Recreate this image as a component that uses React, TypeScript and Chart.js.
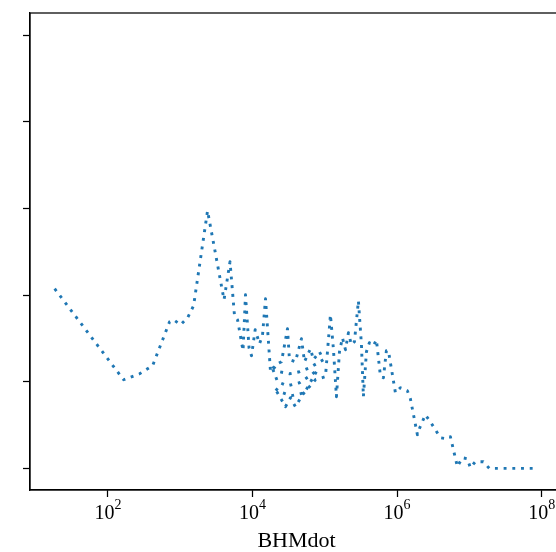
import React, { useEffect, useRef } from "react";
import { Chart, registerables } from "chart.js";

Chart.register(...registerables);

// log10 of BHMdot for each vertex of the plotted (dotted) line
const bhmdotExp = [
  1.263, 2.217, 2.438, 2.618, 2.853, 2.908, 3.005, 3.102, 3.185, 3.378,
  3.606, 3.689, 3.751, 3.793, 3.869, 3.903, 3.952, 3.986, 4.037, 4.097,
  4.138, 4.18, 4.249, 4.318, 4.401, 4.484, 4.511, 4.594, 4.677, 4.719,
  4.802, 4.843, 4.926, 4.981, 4.788, 4.65, 4.511, 4.373, 4.263, 4.346,
  4.484, 4.65, 4.816, 4.898, 4.719, 4.539, 4.373, 4.304, 4.456, 4.525,
  4.594, 4.691, 4.871, 5.009, 5.078, 5.12, 5.161, 5.203, 5.244, 5.286,
  5.327, 5.368, 5.41, 5.465, 5.507, 5.534, 5.576, 5.617, 5.673, 5.714,
  5.769, 5.811, 5.852, 5.88, 5.977, 6.046, 6.142, 6.184, 6.281, 6.308,
  6.391, 6.46, 6.599, 6.682, 6.737, 6.834, 6.903, 6.972, 7.013, 7.082,
  7.193, 7.276, 7.884,
];

const seriesValues = [
  2.073, 1.023, 1.092, 1.185, 1.692, 1.715, 1.657, 1.738, 1.877, 2.972,
  1.946, 2.384, 1.761, 1.715, 1.358, 2.003, 1.392, 1.3, 1.6, 1.438,
  1.531, 1.957, 1.115, 1.196, 1.231, 1.611, 1.254, 1.231, 1.496, 1.231,
  1.381, 1.254, 1.346, 1.254, 1.161, 1.115, 1.092, 1.115, 1.185, 1.0,
  0.954, 0.988, 1.081, 1.138, 0.873, 0.839, 0.885, 0.931, 0.712, 0.815,
  0.712, 0.85, 1.023, 1.058, 1.773, 1.369, 0.827, 1.346, 1.507, 1.369,
  1.565, 1.427, 1.461, 1.934, 1.427, 0.827, 1.346, 1.45, 1.415, 1.484,
  1.069, 1.046, 1.358, 1.358, 0.873, 0.931, 0.896, 0.804, 0.389, 0.458,
  0.619, 0.539, 0.354, 0.343, 0.366, 0.02, 0.123, 0.112, 0.008, 0.077,
  0.077, 0.0, 0.0,
];

const yTickValues = [0, 1, 2, 3, 4, 5];
const xTickExp = [2, 4, 6, 8];
const xTickBase = "10";
const xAxisTitle = "BHMdot";
const FONT = "'Liberation Serif', 'DejaVu Serif', serif";

const framePlugin = {
  id: "frame",
  afterDraw(chart: any) {
    const { ctx, chartArea } = chart;
    ctx.save();
    ctx.strokeStyle = "#000";
    ctx.lineWidth = 1.25;
    ctx.strokeRect(chartArea.left, chartArea.top, chartArea.right - chartArea.left, chartArea.bottom - chartArea.top);

    // x tick labels as 10 with raised exponent
    const xs = chart.scales.x;
    ctx.fillStyle = "#000";
    ctx.textBaseline = "alphabetic";
    ctx.textAlign = "left";
    xTickExp.forEach((e) => {
      const px = xs.getPixelForValue(Math.pow(10, e));
      ctx.font = `20px ${FONT}`;
      const wBase = ctx.measureText(xTickBase).width;
      ctx.font = `14px ${FONT}`;
      const sup = String(e);
      const wSup = ctx.measureText(sup).width;
      const start = px - (wBase + wSup) / 2;
      const baseY = chartArea.bottom + 28.7;
      ctx.font = `20px ${FONT}`;
      ctx.fillText(xTickBase, start, baseY);
      ctx.font = `14px ${FONT}`;
      ctx.fillText(sup, start + wBase, baseY - 9.4);
    });

    // axis title
    ctx.font = `22px ${FONT}`;
    ctx.textAlign = "center";
    ctx.fillText(xAxisTitle, (chartArea.left + chartArea.right) / 2 + 2.5, chartArea.bottom + 57);
    ctx.restore();
  },
};

export default function App() {
  const ref = useRef<HTMLCanvasElement | null>(null);

  useEffect(() => {
    if (!ref.current) return;
    const data = bhmdotExp.map((e, i) => ({ x: Math.pow(10, e), y: seriesValues[i] }));
    const chart = new Chart(ref.current, {
      type: "line",
      data: {
        datasets: [
          {
            data,
            borderColor: "#1f77b4",
            borderWidth: 2.9,
            borderDash: [2.9, 5.8],
            borderCapStyle: "butt",
            borderJoinStyle: "round",
            pointRadius: 0,
            tension: 0,
            fill: false,
          },
        ],
      },
      options: {
        animation: false,
        responsive: false,
        devicePixelRatio: 1,
        layout: { padding: { top: 13, right: 2, left: 0, bottom: 0 } },
        plugins: { legend: { display: false }, tooltip: { enabled: false } },
        scales: {
          x: {
            type: "logarithmic",
            min: Math.pow(10, 0.922),
            max: Math.pow(10, 8.226),
            afterBuildTicks: (scale: any) => {
              scale.ticks = xTickExp.map((e) => ({ value: Math.pow(10, e) }));
            },
            afterFit: (scale: any) => {
              scale.height = 62;
            },
            grid: {
              drawOnChartArea: false,
              drawTicks: true,
              tickLength: 7,
              tickWidth: 1.25,
              tickColor: "#000",
            },
            border: { display: true, color: "#000", width: 1.25 },
            ticks: {
              autoSkip: false,
              maxRotation: 0,
              callback: () => "",
            },
          },
          y: {
            type: "linear",
            min: -0.249,
            max: 5.254,
            afterBuildTicks: (scale: any) => {
              scale.ticks = yTickValues.map((v) => ({ value: v }));
            },
            afterFit: (scale: any) => {
              scale.width = 30;
            },
            grid: {
              drawOnChartArea: false,
              drawTicks: true,
              tickLength: 7,
              tickWidth: 1.25,
              tickColor: "#000",
            },
            border: { display: true, color: "#000", width: 1.25 },
            ticks: { callback: () => "" },
          },
        },
      },
      plugins: [framePlugin],
    } as any);
    return () => chart.destroy();
  }, []);

  return (
    <div style={{ position: "fixed", left: 0, top: 0, width: 556, height: 552, overflow: "hidden", background: "#fff" }}>
      <canvas ref={ref} width={560} height={552} style={{ width: 560, height: 552, display: "block" }} />
    </div>
  );
}
